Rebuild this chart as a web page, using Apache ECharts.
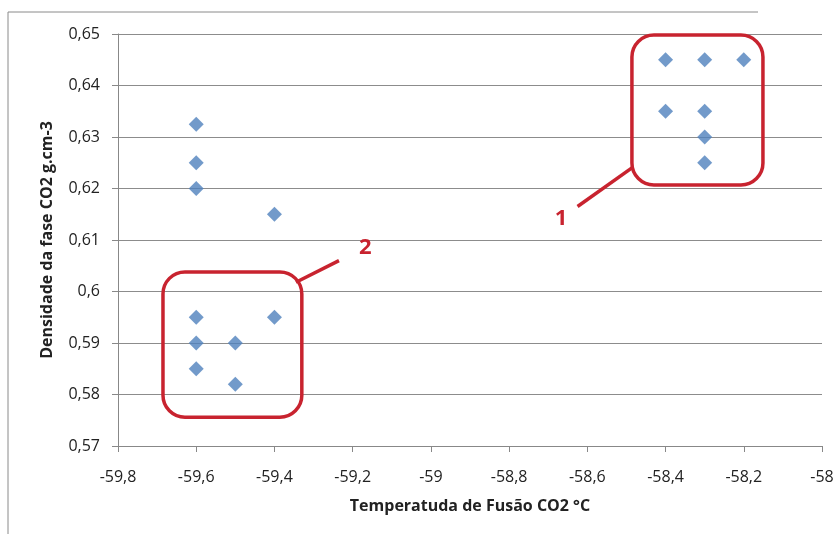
<!DOCTYPE html>
<html>
<head>
<meta charset="utf-8">
<title>Densidade x Temperatura</title>
<script src="https://cdn.jsdelivr.net/npm/echarts@6/dist/echarts.min.js"></script>
<style>
  html, body { margin: 0; padding: 0; background: #fff; }
  #chart { width: 839px; height: 534px; }
</style>
</head>
<body>
<div id="chart"></div>
<script>
// temperatura de fusao (C) e densidade (g/cm3)
var tempFusao = [-58.4, -58.3, -58.2, -58.4, -58.3, -58.3, -58.3,
                 -59.6, -59.6, -59.6, -59.4,
                 -59.6, -59.4, -59.6, -59.5, -59.6, -59.5];
var densidade = [0.645, 0.645, 0.645, 0.635, 0.635, 0.63, 0.625,
                 0.6325, 0.625, 0.62, 0.615,
                 0.595, 0.595, 0.59, 0.59, 0.585, 0.582];

var xTicks = [-59.8, -58, 0.2];   // min, max, passo
var yTicks = [0.57, 0.65, 0.01];

// caixas de destaque (em unidades de dados): [xmin, xmax, ymax, ymin]
var grupos = [
  { nome: '1', caixa: [-58.486, -58.151, 0.6498, 0.6207], de: [-58.486, 0.6240], ate: [-58.625, 0.6165], rotulo: [-58.667, 0.6142] },
  { nome: '2', caixa: [-59.685, -59.330, 0.6038, 0.5756], de: [-59.345, 0.6018], ate: [-59.235, 0.6060], rotulo: [-59.168, 0.6085] }
];

function fmt(v) {
  return String(Math.round(v * 1000) / 1000).replace('.', ',');
}

var pontos = [];
for (var i = 0; i < tempFusao.length; i++) {
  pontos.push([tempFusao[i], densidade[i]]);
}

var chart = echarts.init(document.getElementById('chart'));
var fonte = 'Open Sans, DejaVu Sans, sans-serif';

chart.setOption({
  animation: false,
  backgroundColor: '#fff',
  grid: { left: 118, right: 17, top: 34, bottom: 88 },
  xAxis: {
    type: 'value',
    min: xTicks[0], max: xTicks[1], interval: xTicks[2],
    name: 'Temperatuda de Fusão CO2 °C',
    nameLocation: 'middle', nameGap: 52,
    nameTextStyle: { fontFamily: fonte, fontSize: 16, fontWeight: 'bold', color: '#222' },
    axisLine: { show: true, lineStyle: { color: '#888', width: 1 } },
    axisTick: { show: true, length: 6, lineStyle: { color: '#888' } },
    axisLabel: { formatter: fmt, fontFamily: fonte, fontSize: 16, color: '#222', margin: 23 },
    splitLine: { show: false }
  },
  yAxis: {
    type: 'value',
    min: yTicks[0], max: yTicks[1], interval: yTicks[2],
    name: 'Densidade da fase CO2 g.cm-3',
    nameLocation: 'middle', nameGap: 63, nameRotate: 90,
    nameTextStyle: { fontFamily: fonte, fontSize: 16, fontWeight: 'bold', color: '#222' },
    axisLine: { show: true, lineStyle: { color: '#888', width: 1 } },
    axisTick: { show: true, length: 6, lineStyle: { color: '#888' } },
    axisLabel: { formatter: fmt, fontFamily: fonte, fontSize: 16, color: '#222', margin: 18 },
    splitLine: { show: true, lineStyle: { color: '#8c8c8c', width: 1 } }
  },
  series: [{
    type: 'scatter',
    data: pontos,
    symbol: 'diamond',
    symbolSize: [15, 15],
    itemStyle: { color: '#4f81bd' },
    z: 3
  }]
});

// moldura externa e anotacoes em vermelho
var vermelho = '#c8232f';
var g = [
  { type: 'line', shape: { x1: 8, y1: 12, x2: 758, y2: 12 }, style: { stroke: '#8a8a8a', lineWidth: 1 } },
  { type: 'line', shape: { x1: 8, y1: 12, x2: 8, y2: 534 }, style: { stroke: '#8a8a8a', lineWidth: 1 } }
];
grupos.forEach(function (gr) {
  var p1 = chart.convertToPixel({ gridIndex: 0 }, [gr.caixa[0], gr.caixa[2]]);
  var p2 = chart.convertToPixel({ gridIndex: 0 }, [gr.caixa[1], gr.caixa[3]]);
  var a = chart.convertToPixel({ gridIndex: 0 }, gr.de);
  var b = chart.convertToPixel({ gridIndex: 0 }, gr.ate);
  var t = chart.convertToPixel({ gridIndex: 0 }, gr.rotulo);
  g.push({
    type: 'rect', z: 10,
    shape: { x: p1[0], y: p1[1], width: p2[0] - p1[0], height: p2[1] - p1[1], r: 22 },
    style: { fill: null, stroke: vermelho, lineWidth: 3.5 }
  });
  g.push({
    type: 'line', z: 10,
    shape: { x1: a[0], y1: a[1], x2: b[0], y2: b[1] },
    style: { stroke: vermelho, lineWidth: 3.5 }
  });
  g.push({
    type: 'text', z: 10, x: t[0], y: t[1],
    style: { text: gr.nome, fill: vermelho, font: 'bold 22px ' + fonte, align: 'center', verticalAlign: 'middle' }
  });
});
chart.setOption({ graphic: g });
</script>
</body>
</html>
